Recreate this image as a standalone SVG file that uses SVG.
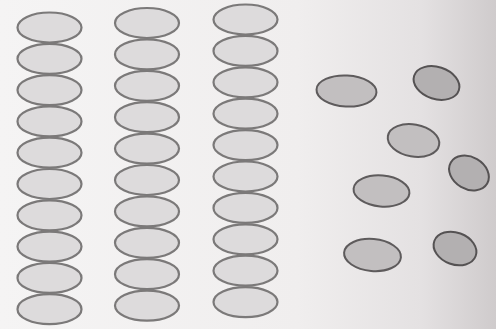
<svg xmlns="http://www.w3.org/2000/svg" width="496" height="329" viewBox="0 0 496 329">
<defs>
<linearGradient id="bg" x1="0" y1="0" x2="1" y2="0">
<stop offset="0" stop-color="#f5f4f4"/>
<stop offset="0.6" stop-color="#f0eeee"/>
<stop offset="0.85" stop-color="#e4e1e2"/>
<stop offset="1" stop-color="#cfcbcc"/>
</linearGradient>
</defs>
<style>
.a{fill:#dddbdc;stroke:#7b7979;stroke-width:2.2}
.b{fill:#c2bfc0;stroke:#5e5b5c;stroke-width:2}
.c{fill:#b3b0b1;stroke:#555253;stroke-width:2}
</style>
<rect width="496" height="329" fill="url(#bg)"/>
<g id="col1">
<ellipse class="a" cx="49.5" cy="27.5" rx="32" ry="15"/>
<ellipse class="a" cx="49.5" cy="58.8" rx="32" ry="15"/>
<ellipse class="a" cx="49.5" cy="90.1" rx="32" ry="15"/>
<ellipse class="a" cx="49.5" cy="121.4" rx="32" ry="15"/>
<ellipse class="a" cx="49.5" cy="152.7" rx="32" ry="15"/>
<ellipse class="a" cx="49.5" cy="184" rx="32" ry="15"/>
<ellipse class="a" cx="49.5" cy="215.3" rx="32" ry="15"/>
<ellipse class="a" cx="49.5" cy="246.6" rx="32" ry="15"/>
<ellipse class="a" cx="49.5" cy="277.9" rx="32" ry="15"/>
<ellipse class="a" cx="49.5" cy="309.2" rx="32" ry="15"/>
</g>
<g id="col2">
<ellipse class="a" cx="147" cy="23" rx="32" ry="15"/>
<ellipse class="a" cx="147" cy="54.4" rx="32" ry="15"/>
<ellipse class="a" cx="147" cy="85.8" rx="32" ry="15"/>
<ellipse class="a" cx="147" cy="117.2" rx="32" ry="15"/>
<ellipse class="a" cx="147" cy="148.6" rx="32" ry="15"/>
<ellipse class="a" cx="147" cy="180" rx="32" ry="15"/>
<ellipse class="a" cx="147" cy="211.4" rx="32" ry="15"/>
<ellipse class="a" cx="147" cy="242.8" rx="32" ry="15"/>
<ellipse class="a" cx="147" cy="274.2" rx="32" ry="15"/>
<ellipse class="a" cx="147" cy="305.6" rx="32" ry="15"/>
</g>
<g id="col3">
<ellipse class="a" cx="245.5" cy="19.5" rx="32" ry="15"/>
<ellipse class="a" cx="245.5" cy="50.9" rx="32" ry="15"/>
<ellipse class="a" cx="245.5" cy="82.3" rx="32" ry="15"/>
<ellipse class="a" cx="245.5" cy="113.7" rx="32" ry="15"/>
<ellipse class="a" cx="245.5" cy="145.1" rx="32" ry="15"/>
<ellipse class="a" cx="245.5" cy="176.5" rx="32" ry="15"/>
<ellipse class="a" cx="245.5" cy="207.9" rx="32" ry="15"/>
<ellipse class="a" cx="245.5" cy="239.3" rx="32" ry="15"/>
<ellipse class="a" cx="245.5" cy="270.7" rx="32" ry="15"/>
<ellipse class="a" cx="245.5" cy="302.1" rx="32" ry="15"/>
</g>
<g id="loose1"><ellipse class="b" cx="346.5" cy="91" rx="30" ry="15.5" transform="rotate(3 346.5 91)"/></g>
<g id="loose2"><ellipse class="c" cx="436.5" cy="83" rx="23.5" ry="16" transform="rotate(18 436.5 83)"/></g>
<g id="loose3"><ellipse class="b" cx="413.5" cy="140.5" rx="26" ry="16" transform="rotate(10 413.5 140.5)"/></g>
<g id="loose4"><ellipse class="c" cx="469" cy="173" rx="21" ry="16" transform="rotate(30 469 173)"/></g>
<g id="loose5"><ellipse class="b" cx="381.5" cy="191" rx="28" ry="15.5" transform="rotate(5 381.5 191)"/></g>
<g id="loose6"><ellipse class="b" cx="372.5" cy="255" rx="28.5" ry="16" transform="rotate(5 372.5 255)"/></g>
<g id="loose7"><ellipse class="c" cx="455" cy="248.5" rx="22" ry="16" transform="rotate(20 455 248.5)"/></g>
</svg>
